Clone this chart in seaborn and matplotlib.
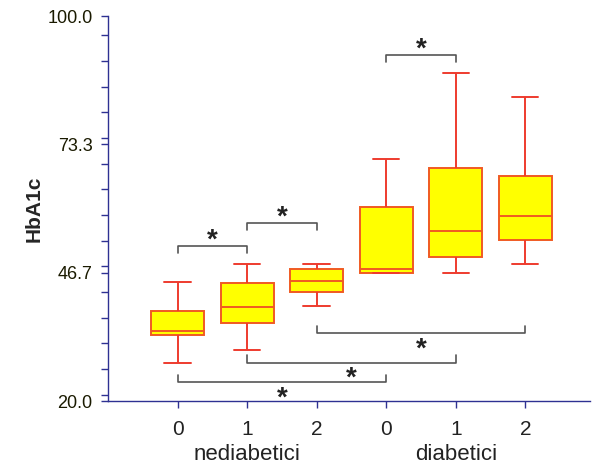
import pandas as pd
import matplotlib.pyplot as plt
import matplotlib.transforms as mtransforms
from matplotlib.ticker import FixedLocator, MultipleLocator
import seaborn as sns

sns.set_style("white")
plt.rcParams['font.family'] = ['Liberation Sans', 'DejaVu Sans']

# Five-number summaries (HbA1c)
groups = ['n0', 'n1', 'n2', 'd0', 'd1', 'd2']
tick_labels = ['0', '1', '2', '0', '1', '2']
group_names = ['nediabetici', 'diabetici']
low = [27.8, 30.7, 39.7, 46.5, 46.5, 48.5]
q1 = [33.7, 36.2, 42.6, 46.5, 50.0, 53.5]
median = [34.6, 39.5, 44.9, 47.4, 55.3, 58.4]
q3 = [38.7, 44.6, 47.4, 60.4, 68.5, 66.8]
high = [44.7, 48.5, 48.5, 70.3, 88.2, 83.2]

# significance brackets: pairs of boxes and bracket level
sig_pairs = [(3, 4), (0, 1), (1, 2), (2, 5), (1, 4), (0, 3)]
sig_levels = [91.9, 52.2, 57.0, 34.1, 28.0, 24.0]

rows = []
for i, g in enumerate(groups):
    for v in (low[i], q1[i], median[i], q3[i], high[i]):
        rows.append({'group': g, 'HbA1c': v})
df = pd.DataFrame(rows)

axis_col = '#2E3192'
red = '#EE3B2E'

fig = plt.figure(figsize=(5.95, 4.67), dpi=100)
ax = fig.add_axes([0.1815, 0.1413, 0.81, 0.8244])

sns.boxplot(data=df, x='group', y='HbA1c', order=groups, ax=ax,
            whis=(0, 100), width=0.76, saturation=1, color='#FFFF00',
            linecolor=red, linewidth=1.4, showfliers=False,
            boxprops={'edgecolor': '#F05A22'},
            medianprops={'color': '#F05A22'})

ax.set_ylim(20, 100)
ax.set_xlim(-1.0, 5.93)
ax.yaxis.set_major_locator(FixedLocator([20, 20 + 80 / 3, 20 + 160 / 3, 100]))
ax.yaxis.set_major_formatter(plt.FormatStrFormatter('%.1f'))
ax.yaxis.set_minor_locator(MultipleLocator(80 / 15))
ax.set_xticks(range(len(groups)))
ax.set_xticklabels(tick_labels, fontsize=15, color='#222222')
ax.tick_params(axis='y', which='both', direction='out', length=5, width=1,
               color=axis_col, left=True, labelsize=13, labelcolor='#1a1a00', pad=6)
ax.tick_params(axis='x', direction='out', length=5, width=1, color=axis_col,
               bottom=True, pad=9)
ax.set_xlabel('')
ax.set_ylabel('HbA1c', fontsize=15, fontweight='bold', labelpad=3)

for s in ['top', 'right']:
    ax.spines[s].set_visible(False)
for s in ['left', 'bottom']:
    ax.spines[s].set_color(axis_col)
    ax.spines[s].set_linewidth(1)

# group names under the tick labels
trans = mtransforms.blended_transform_factory(ax.transData, ax.transAxes)
for k, name in enumerate(group_names):
    ax.text(1 + 3 * k, -0.14, name, transform=trans, ha='center', va='center',
            fontsize=16, color='#222222')

# significance brackets
tick = 1.5
for (a, b), lvl in zip(sig_pairs, sig_levels):
    above = lvl > max(high[a], high[b])
    d = -tick if above else tick
    ax.plot([a, a, b, b], [lvl + d, lvl, lvl, lvl + d], color='#555555', lw=1.2,
            clip_on=False)
    ty = lvl + 1.2 if above else lvl - 3.4
    ax.text((a + b) / 2, ty, '*', ha='center', va='center', fontsize=20,
            fontweight='bold', color='#222222')

fig.savefig('out.png', dpi=100)
